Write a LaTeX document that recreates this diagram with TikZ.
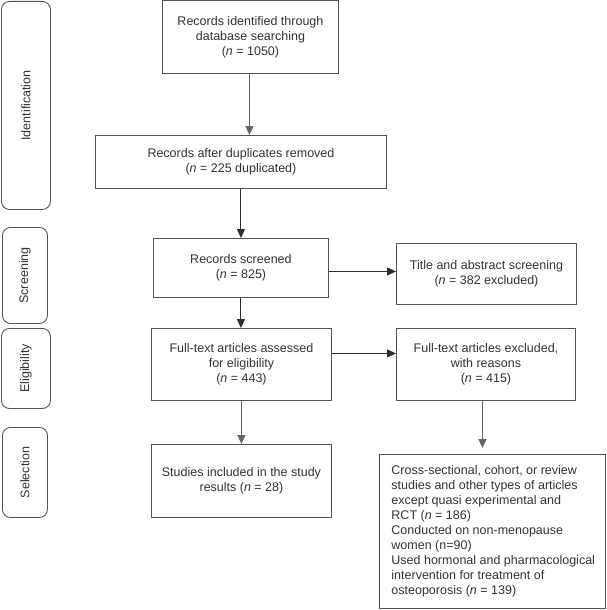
\documentclass[tikz,border=0pt]{standalone}
\usepackage{fontspec}
\setmainfont{Liberation Sans}
\usetikzlibrary{arrows.meta}
\definecolor{txt}{HTML}{333333}
\definecolor{edge}{HTML}{555555}
\definecolor{arrc}{HTML}{2E2E2E}
\definecolor{arrg}{HTML}{666666}
\begin{document}
\begin{tikzpicture}[x=1pt,y=-1pt,
  font=\fontsize{12.5}{15}\selectfont,
  box/.style={draw=edge, line width=0.9pt, inner sep=0pt, align=center, anchor=north west, text=txt},
  side/.style={draw=edge, line width=0.9pt, rounded corners=8pt, inner sep=0pt, anchor=north west},
  sidelabel/.style={rotate=90, text=txt},
  arr/.style={draw=arrc, line width=1pt, -{Triangle[length=9pt,width=8pt]}},
  garr/.style={draw=arrg, line width=1.6pt, -{Triangle[length=9pt,width=8pt]}}]
\useasboundingbox (0,0) rectangle (606,610);

% side phase boxes
\node[side, minimum width=49pt, minimum height=208pt] (sid) at (1,1) {};
\node[sidelabel] (lid) at (sid.center) {Identification};
\node[side, minimum width=45pt, minimum height=96pt] (sscr) at (2,227) {};
\node[sidelabel] (lscr) at (sscr.center) {Screening};
\node[side, minimum width=49pt, minimum height=80pt] (selig) at (1,328) {};
\node[sidelabel] (lelig) at (selig.center) {Eligibility};
\node[side, minimum width=45pt, minimum height=90pt] (ssel) at (2,427) {};
\node[sidelabel] (lsel) at (ssel.center) {Selection};

% main boxes
\node[box, minimum width=176pt, minimum height=72.5pt] (b1) at (162,0.5)
  {Records identified through\\database searching\\(\textit{n} = 1050)};
\node[box, minimum width=291pt, minimum height=53pt] (b2) at (95,135)
  {Records after duplicates removed\\(\textit{n} = 225 duplicated)};
\node[box, minimum width=175pt, minimum height=59pt] (b3) at (153,238)
  {Records screened\\(\textit{n} = 825)};
\node[box, minimum width=180pt, minimum height=72pt] (b4) at (151,328)
  {Full-text articles assessed\\for eligibility\\(\textit{n} = 443)};
\node[box, minimum width=180pt, minimum height=73pt] (b5) at (151,444)
  {Studies included in the study\\results (\textit{n} = 28)};

% exclusion boxes
\node[box, minimum width=226pt, minimum height=154pt] (e3) at (379,454)
  {\makebox[226pt][l]{\hspace*{12pt}\begin{tabular}{@{}l@{}}Cross-sectional, cohort, or review\\studies and other types of articles\\except quasi experimental and\\RCT (\textit{n} = 186)\\Conducted on non-menopause\\women (n=90)\\Used hormonal and pharmacological\\intervention for treatment of\\osteoporosis (\textit{n} = 139)\end{tabular}}};
\node[box, minimum width=180pt, minimum height=61pt] (e1) at (396,243)
  {Title and abstract screening\\(\textit{n} = 382 excluded)};
\node[box, minimum width=179pt, minimum height=72pt] (e2) at (396,328)
  {Full-text articles excluded,\\with reasons\\(\textit{n} = 415)};

% connectors
\draw[garr] ([xshift=-1pt]b1.south) -- ([xshift=-1pt]b1.south |- b2.north);
\draw[arr] (b2.south) -- (b2.south |- b3.north);
\draw[arr] (b3.south) -- (b3.south |- b4.north);
\draw[garr] (b4.south) -- (b4.south |- b5.north);
\draw[arr] ([yshift=-3.5pt]b3.east) -- ([yshift=-3.5pt]b3.east -| e1.west);
\draw[arr] ([yshift=11pt]b4.east) -- ([yshift=11pt]b4.east -| e2.west);
\draw[garr, shorten >=6pt] ([xshift=-3.5pt]e2.south) -- ([xshift=-3.5pt]e2.south |- e3.north);
\end{tikzpicture}
\end{document}
